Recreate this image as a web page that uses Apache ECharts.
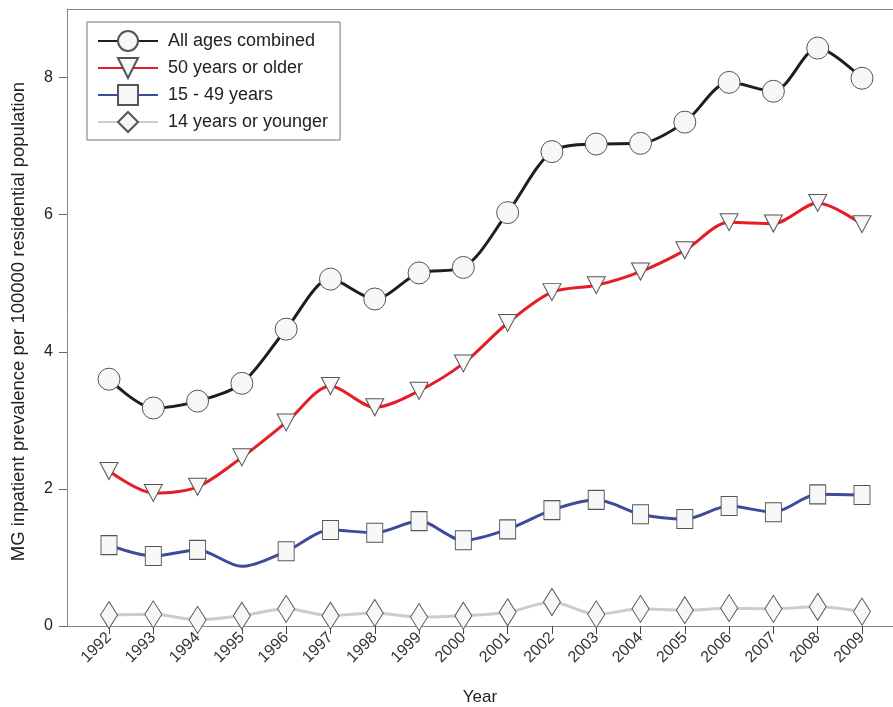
<!DOCTYPE html>
<html>
<head>
<meta charset="utf-8">
<script src="https://cdn.jsdelivr.net/npm/echarts@6/dist/echarts.min.js"></script>
<style>
  html, body { margin: 0; padding: 0; background: #fff; }
  #chart { width: 893px; height: 707px; }
</style>
</head>
<body>
<div id="chart"></div>
<script>
// Years on the horizontal axis
const years = [1992, 1993, 1994, 1995, 1996, 1997, 1998, 1999, 2000,
               2001, 2002, 2003, 2004, 2005, 2006, 2007, 2008, 2009];

// Prevalence per 100000 residential population, by age group
const allAges   = [3.60, 3.18, 3.28, 3.54, 4.33, 5.06, 4.77, 5.15, 5.23,
                   6.03, 6.92, 7.03, 7.04, 7.35, 7.93, 7.80, 8.43, 7.99];
const age50plus = [2.26, 1.94, 2.03, 2.46, 2.97, 3.50, 3.19, 3.43, 3.83,
                   4.42, 4.87, 4.97, 5.17, 5.48, 5.89, 5.87, 6.17, 5.86];
const age15to49 = [1.18, 1.02, 1.11, 0.87, 1.09, 1.40, 1.36, 1.53, 1.25,
                   1.41, 1.69, 1.84, 1.63, 1.56, 1.75, 1.66, 1.92, 1.91];
const age14less = [0.16, 0.17, 0.09, 0.15, 0.25, 0.15, 0.19, 0.13, 0.15,
                   0.20, 0.35, 0.17, 0.25, 0.23, 0.26, 0.25, 0.28, 0.21];

// Years for which the 15 - 49 marker is not drawn
const hiddenMarkers15to49 = [1995];

const yTicks = [0, 2, 4, 6, 8];

const markerStyle = { color: '#f7f7f7', borderColor: '#555', borderWidth: 1 };

function pairs(values, hidden) {
  return years.map((y, i) => {
    if (hidden && hidden.indexOf(y) >= 0) {
      return { value: [y, values[i]], symbol: 'none' };
    }
    return [y, values[i]];
  });
}

function lineSeries(name, values, color, symbol, size, hidden) {
  return {
    name: name,
    type: 'line',
    xAxisIndex: 0,
    data: pairs(values, hidden),
    smooth: 0.3,
    symbol: symbol,
    symbolSize: size,
    showAllSymbol: true,
    lineStyle: { color: color, width: 3 },
    itemStyle: markerStyle,
    emphasis: { disabled: true },
    z: 2
  };
}

const axisGray = '#8a8a8a';
const xMin = 1991.052, xMax = 2009.70;

const chart = echarts.init(document.getElementById('chart'), null, { renderer: 'canvas' });

chart.setOption({
  animation: false,
  backgroundColor: '#fff',
  textStyle: { fontFamily: 'Liberation Sans, Arial, sans-serif' },
  grid: {
    left: 67, right: 0, top: 9, bottom: 81,
    outerBoundsMode: 'none',
    containLabel: false
  },
  legend: {
    orient: 'vertical',
    left: 87, top: 22,
    padding: [8, 12, 7, 10],
    itemGap: 5,
    itemWidth: 60,
    itemHeight: 25,
    backgroundColor: '#fff',
    borderColor: '#777',
    borderWidth: 1,
    textStyle: { fontSize: 18, color: '#222', padding: [0, 0, 0, 5] },
    data: ['All ages combined', '50 years or older', '15 - 49 years', '14 years or younger']
  },
  xAxis: [{
    type: 'value',
    min: xMin,
    max: xMax,
    name: 'Year',
    nameLocation: 'middle',
    nameGap: 63,
    nameTextStyle: { fontSize: 17, color: '#222' },
    splitLine: { show: false },
    axisLine: { show: true, lineStyle: { color: axisGray, width: 1 } },
    axisTick: { show: true, length: 8, lineStyle: { color: '#444' }, customValues: years },
    axisLabel: {
      rotate: 45, fontSize: 16, color: '#333', margin: 9,
      customValues: years,
      formatter: v => String(Math.round(v))
    }
  }, {
    // frame line along the top of the plot
    type: 'value',
    position: 'top',
    min: xMin,
    max: xMax,
    splitLine: { show: false },
    axisLine: { show: true, onZero: false, lineStyle: { color: axisGray, width: 1 } },
    axisTick: { show: false },
    axisLabel: { show: false }
  }],
  yAxis: {
    type: 'value',
    min: 0,
    max: 9,
    name: 'MG inpatient prevalence per 100000 residential population',
    nameLocation: 'middle',
    nameGap: 39,
    nameTextStyle: { fontSize: 18.5, color: '#222', padding: [0, 8, 0, 0] },
    splitLine: { show: false },
    axisLine: { show: true, lineStyle: { color: axisGray, width: 1 } },
    axisTick: { show: true, length: 8, lineStyle: { color: '#666' }, customValues: yTicks },
    axisLabel: { fontSize: 16, color: '#222', margin: 14, customValues: yTicks }
  },
  series: [
    lineSeries('All ages combined', allAges, '#1e1e1e', 'circle', 22),
    lineSeries('50 years or older', age50plus, '#e41e26', 'path://M0,0 L20,0 L10,18 Z', [18, 17]),
    lineSeries('15 - 49 years', age15to49, '#3c4b9c', 'rect', [16, 19], hiddenMarkers15to49),
    lineSeries('14 years or younger', age14less, '#cccccc', 'diamond', [17, 27])
  ]
});
</script>
</body>
</html>
